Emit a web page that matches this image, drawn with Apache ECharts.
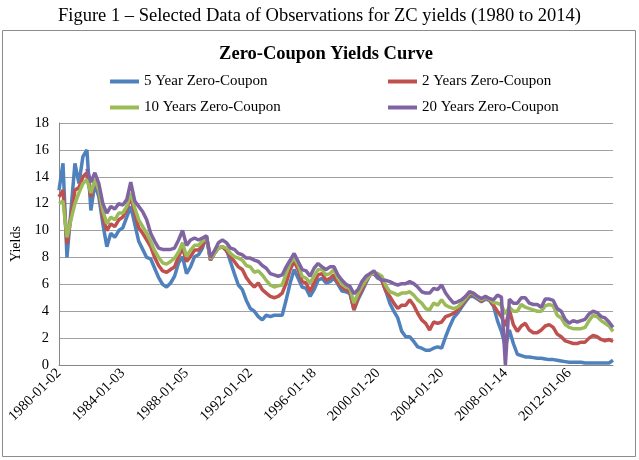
<!DOCTYPE html>
<html>
<head>
<meta charset="utf-8">
<script src="https://cdn.jsdelivr.net/npm/echarts@6/dist/echarts.min.js"></script>
<style>
html,body{margin:0;padding:0;background:#fff;}
#chart{width:639px;height:460px;}
</style>
</head>
<body>
<div id="chart"></div>
<script>
const captionText = 'Figure 1 \u2013 Selected Data of Observations for ZC yields (1980 to 2014)';
const chartTitle = 'Zero-Coupon Yields Curve';
const seriesNames = ['5 Year Zero-Coupon', '2 Years Zero-Coupon', '10 Years Zero-Coupon', '20 Years Zero-Coupon'];
const tickLabels = ['1980-01-02','1984-01-03','1988-01-05','1992-01-02','1996-01-18','2000-01-20','2004-01-20','2008-01-14','2012-01-06'];
const yTicks = [0, 18, 2];

// quarterly observations, 1980 Q1 .. 2014 Q4
const y5 = [13.0,15.0,8.0,11.5,15.0,13.5,15.5,16.0,11.5,13.5,12.5,10.5,8.8,9.8,9.5,10.0,
10.2,11.0,11.8,10.5,9.2,8.6,8.0,7.9,7.2,6.5,6.0,5.8,6.1,6.6,7.6,8.05,
6.8,7.3,8.05,8.2,8.7,9.6,7.8,8.3,8.7,8.8,8.6,7.7,6.8,5.95,5.6,4.8,
4.2,4.0,3.6,3.35,3.7,3.6,3.7,3.7,3.7,4.85,6.1,7.1,6.45,5.8,5.7,5.1,
5.6,6.3,6.45,6.1,6.2,6.45,6.0,5.5,5.45,5.3,4.1,4.85,5.45,6.1,6.7,6.8,
6.45,6.3,5.5,4.6,4.0,3.5,2.5,2.1,2.1,1.75,1.35,1.25,1.1,1.1,1.25,1.35,
1.25,2.1,2.85,3.5,3.85,4.3,4.7,5.1,5.1,4.9,4.7,4.9,4.8,4.4,3.3,2.5,
1.4,2.6,1.6,0.8,0.7,0.6,0.6,0.55,0.5,0.5,0.45,0.4,0.4,0.35,0.3,0.25,
0.2,0.2,0.2,0.2,0.15,0.15,0.15,0.15,0.15,0.15,0.15,0.35];
const y2 = [12.5,13.0,9.0,11.0,13.0,13.2,14.0,14.3,12.5,13.8,13.0,11.0,10.0,10.5,10.3,10.8,
11.0,11.6,12.5,11.3,10.2,9.8,9.3,8.8,8.0,7.4,7.0,6.9,7.1,7.3,8.06,8.7,
7.7,8.06,8.55,8.55,8.9,9.5,7.8,8.3,8.7,8.8,8.5,8.06,7.7,7.3,7.1,6.5,
6.1,5.8,6.1,5.6,5.35,5.1,5.0,5.1,5.35,6.1,7.1,7.7,7.1,6.2,6.1,5.45,
6.1,6.7,6.8,6.3,6.45,6.7,6.1,5.8,5.6,5.45,4.1,5.0,5.6,6.2,6.7,6.8,
6.6,6.3,5.5,5.1,4.6,4.2,4.45,4.45,4.85,4.45,3.85,3.35,3.1,2.6,3.2,3.1,
3.2,3.6,3.7,3.85,4.05,4.45,4.85,5.2,5.25,5.0,4.75,5.0,4.85,4.45,4.0,3.6,
2.9,4.1,3.0,2.5,2.9,3.1,2.6,2.4,2.4,2.6,2.9,3.0,2.8,2.3,2.1,1.8,
1.7,1.6,1.6,1.7,1.7,2.0,2.2,2.1,1.9,1.8,1.9,1.75];
const y10 = [12.0,12.2,9.5,10.8,12.0,12.8,13.5,13.8,12.8,13.8,13.0,11.5,10.5,11.0,10.8,11.3,
11.3,11.8,12.8,11.7,10.8,10.3,9.8,9.2,8.5,8.0,7.6,7.5,7.7,7.95,8.4,9.1,
8.06,8.55,8.9,8.9,9.2,9.5,7.9,8.3,8.7,8.8,8.7,8.3,8.06,7.95,7.8,7.4,
7.3,6.9,7.0,6.7,6.3,5.95,5.8,5.9,5.95,6.8,7.6,7.95,7.45,6.6,6.45,6.1,
6.6,7.1,7.1,6.7,6.8,7.1,6.45,6.0,5.8,5.7,4.6,5.3,5.85,6.3,6.7,6.85,
6.8,6.6,5.9,5.45,5.35,5.2,5.35,5.35,5.45,5.2,4.85,4.6,4.2,4.1,4.6,4.45,
4.85,4.45,4.3,4.2,4.3,4.6,4.95,5.35,5.3,5.05,4.85,5.05,4.9,4.65,4.6,4.45,
3.8,4.3,4.0,4.0,4.5,4.3,4.2,4.1,4.0,4.0,4.4,4.5,4.4,3.7,3.5,3.0,
2.8,2.7,2.7,2.7,2.8,3.3,3.7,3.6,3.3,3.1,2.9,2.5];
const y20 = [null,null,null,null,null,null,null,14.6,13.6,14.3,13.5,12.0,11.3,11.8,11.6,12.0,
11.9,12.3,13.6,12.2,11.8,11.4,10.8,9.8,9.2,8.7,8.6,8.6,8.6,8.7,9.3,10.0,
8.9,9.3,9.45,9.3,9.45,9.6,8.0,8.5,9.1,9.3,9.1,8.7,8.6,8.3,8.2,7.95,
7.95,7.8,7.7,7.4,7.2,6.8,6.7,6.6,6.7,7.3,7.8,8.3,7.7,7.1,7.0,6.6,
7.2,7.55,7.3,7.1,7.3,7.3,6.7,6.3,6.0,5.85,5.3,5.6,6.2,6.6,6.8,7.0,
6.6,6.3,6.3,6.2,6.05,5.95,6.05,6.05,6.2,6.05,5.8,5.45,5.35,5.35,5.7,5.6,
5.95,5.35,4.95,4.6,4.7,4.85,5.1,5.45,5.35,5.1,4.95,5.1,4.95,4.85,5.2,5.05,
0.0,4.9,4.6,4.6,5.0,5.0,4.6,4.5,4.5,4.3,4.9,4.9,4.8,4.2,4.0,3.4,
3.1,3.3,3.2,3.3,3.4,3.8,4.0,3.9,3.6,3.5,3.2,2.8];

const colors = ['#4F81BD', '#C0504D', '#9BBB59', '#8064A2'];
const seriesValues = [y5, y2, y10, y20];

// category strings: one per quarter, tick dates at every 16th
const months = ['01','04','07','10'];
const categories = y5.map(function (v, i) {
  if (i % 16 === 0) return tickLabels[i / 16];
  return (1980 + Math.floor(i / 4)) + '-' + months[i % 4] + '-01';
});

const FONT = 'Liberation Serif';
const legendPos = [[110, 74], [388, 74], [110, 100], [388, 100]];

const chart = echarts.init(document.getElementById('chart'), null, {renderer: 'canvas'});
chart.setOption({
  animation: false,
  backgroundColor: '#fff',
  color: colors,
  graphic: [{
    type: 'rect', shape: {x: 2.5, y: 30.5, width: 633, height: 426},
    style: {fill: 'none', stroke: '#8c8c8c', lineWidth: 1}, z: -1
  }],
  title: [{
    text: captionText, left: 'center', top: 2,
    textStyle: {fontFamily: FONT, fontSize: 18.5, fontWeight: 'normal', color: '#000'}
  }, {
    text: chartTitle, left: 321, textAlign: 'center', top: 40,
    textStyle: {fontFamily: FONT, fontSize: 18.5, fontWeight: 'bold', color: '#000'}
  }],
  legend: seriesNames.map(function (n, k) {
    return {
      data: [n], left: legendPos[k][0], top: legendPos[k][1], icon: 'rect',
      itemWidth: 29, itemHeight: 4, padding: 0,
      textStyle: {fontFamily: FONT, fontSize: 15, color: '#000'}
    };
  }),
  grid: {left: 59, right: 26, top: 123, bottom: 95, containLabel: false},
  xAxis: {
    type: 'category', data: categories, boundaryGap: false,
    axisLine: {lineStyle: {color: '#868686'}},
    axisTick: {show: false},
    axisLabel: {interval: 15, rotate: 45, margin: 6, fontFamily: FONT, fontSize: 14.5, color: '#000'}
  },
  yAxis: {
    type: 'value', min: yTicks[0], max: yTicks[1], interval: yTicks[2],
    name: 'Yields', nameLocation: 'middle', nameGap: 36, nameRotate: 90,
    nameTextStyle: {fontFamily: FONT, fontSize: 14, color: '#000'},
    axisLine: {show: true, lineStyle: {color: '#868686'}},
    axisTick: {show: false},
    axisLabel: {fontFamily: FONT, fontSize: 14.5, color: '#000', margin: 10},
    splitLine: {lineStyle: {color: '#a0a0a0'}}
  },
  series: seriesNames.map(function (n, k) {
    return {
      name: n, type: 'line', data: seriesValues[k], showSymbol: false,
      lineStyle: {width: 3.5, color: colors[k]}, itemStyle: {color: colors[k]}
    };
  })
});
</script>
</body>
</html>
